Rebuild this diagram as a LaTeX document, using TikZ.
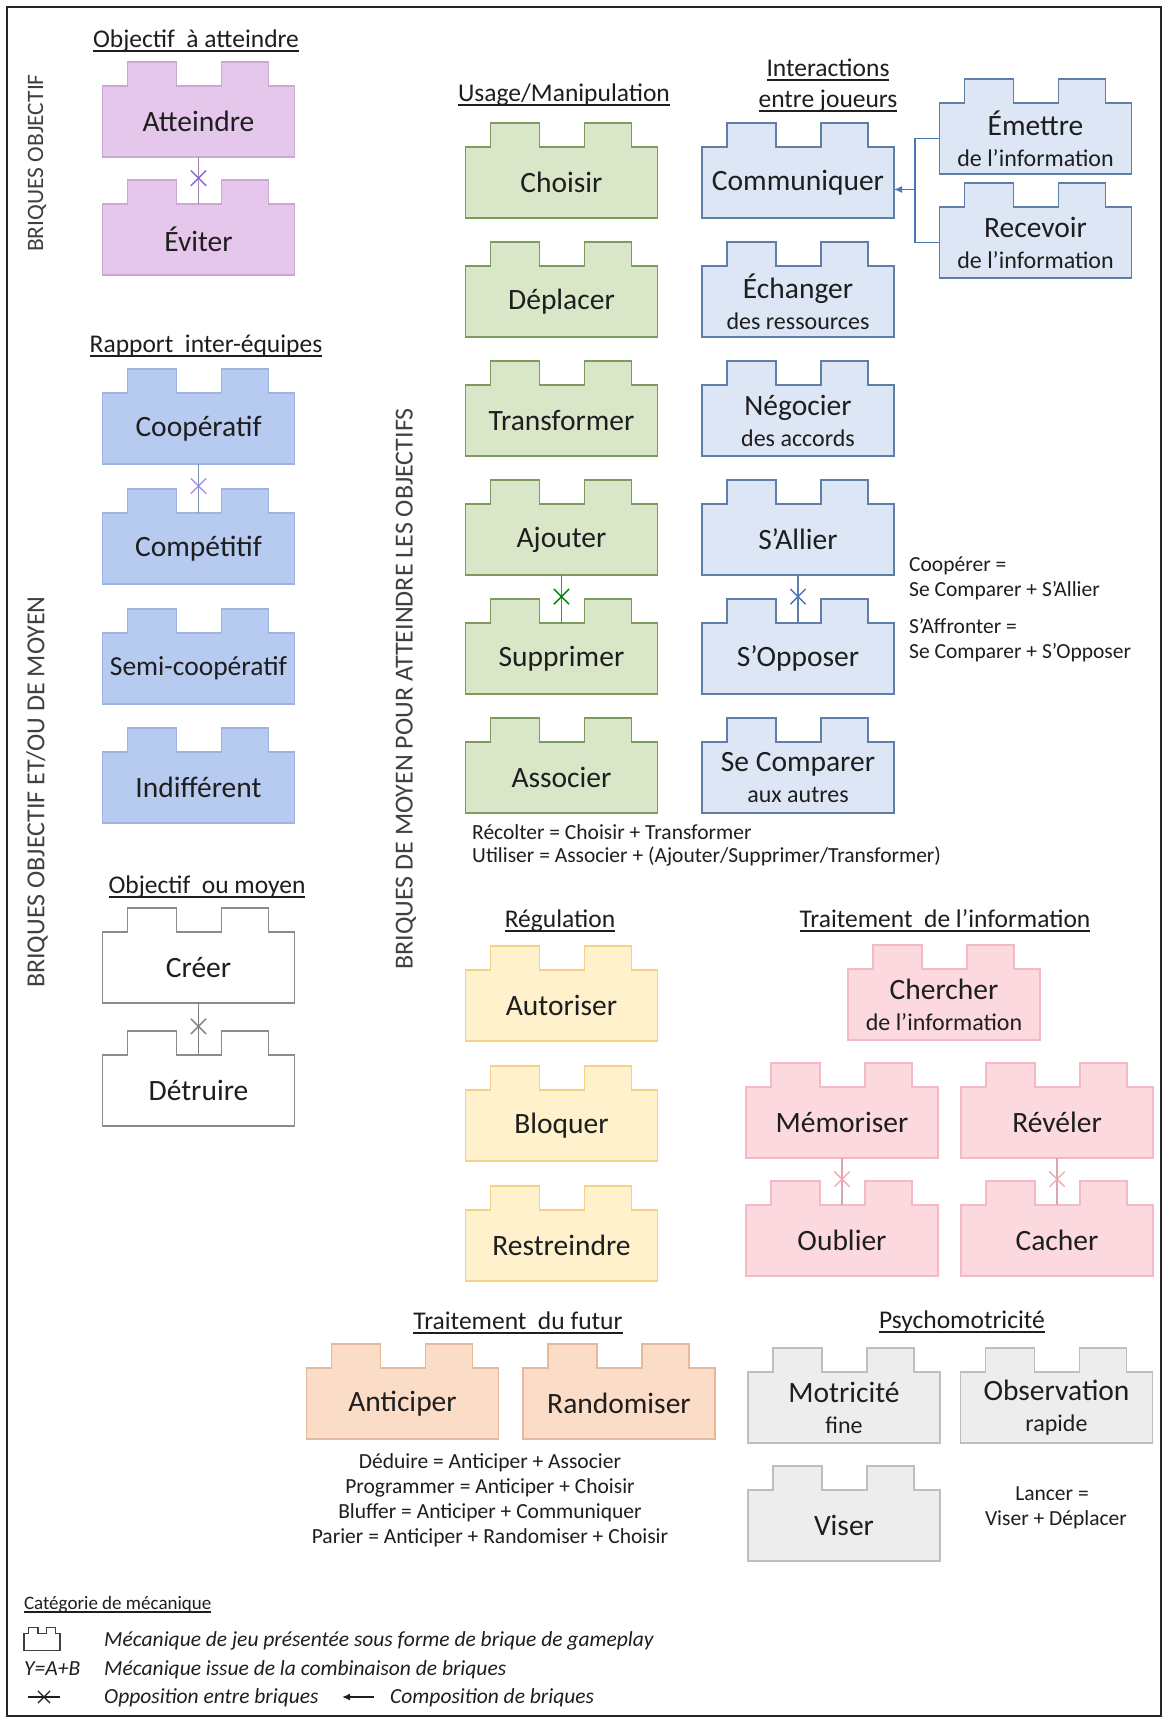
\documentclass[tikz,border=0pt]{standalone}
\usepackage{fontspec}
\setmainfont{Carlito}
\usetikzlibrary{arrows.meta,shapes.misc,calc}

\definecolor{txt}{HTML}{1E1E1E}
\definecolor{lilacF}{HTML}{E6C7EC}\definecolor{lilacD}{HTML}{CBA8D4}
\definecolor{blueF}{HTML}{B7CBF0}\definecolor{blueD}{HTML}{9DB4E2}
\definecolor{lblueF}{HTML}{DCE6F4}\definecolor{lblueD}{HTML}{5F7FA8}
\definecolor{greenF}{HTML}{D9E6C8}\definecolor{greenD}{HTML}{7F9A5F}
\definecolor{whiteF}{HTML}{FFFFFF}\definecolor{grayD}{HTML}{8C8C8C}
\definecolor{yelF}{HTML}{FFF1CC}\definecolor{yelD}{HTML}{F5D283}
\definecolor{pinkF}{HTML}{FBD9DF}\definecolor{pinkD}{HTML}{F3B9C5}
\definecolor{orF}{HTML}{FADCC7}\definecolor{orD}{HTML}{E6B89C}
\definecolor{grF}{HTML}{EDEDED}\definecolor{grD}{HTML}{BEBEBE}
\definecolor{compC}{HTML}{4A76B5}

\newcommand\BrFont{\fontsize{29.5}{32}\selectfont}
\newcommand\SemiFont{\fontsize{27.5}{32}\selectfont}
\newcommand\SubFont{\fontsize{24}{26}\selectfont}
\newcommand\TiFont{\fontsize{25.5}{29}\selectfont}
\newcommand\FoFont{\fontsize{21.5}{24}\selectfont}
\newcommand\SiFont{\fontsize{26}{29}\selectfont}
\newcommand\SiSmall{\fontsize{23.5}{27}\selectfont}
\newcommand\LgFont{\fontsize{21.5}{24}\selectfont}
\newcommand\LgHead{\fontsize{19}{22}\selectfont}

% #1 name, #2 centre x, #3 top of studs, #4 fill, #5 border, #6 text
\newcommand\brick[6]{%
  \node[brickbody, fill=#4, draw=#5] (#1) at (#2,#3+55.5) {#6};
  \filldraw[fill=#4, draw=#5, line width=1.5pt] ([xshift=25pt]#1.north west) -- ++(0,-24) -- ++(49,0) -- ++(0,24);
  \filldraw[fill=#4, draw=#5, line width=1.5pt] ([xshift=119pt]#1.north west) -- ++(0,-24) -- ++(47,0) -- ++(0,24);
  \fill[#4] ([xshift=25.9pt,yshift=-1.2pt]#1.north west) rectangle ++(47.2,-2.4);
  \fill[#4] ([xshift=119.9pt,yshift=-1.2pt]#1.north west) rectangle ++(45.2,-2.4);
}
% opposition: #1 upper, #2 lower, #3 line colour, #4 cross colour, #5 cross name
\newcommand\opp[5]{%
  \draw[oppline=#3] (#1.south) -- (#2.north) node[xmark=#4, pos=0.45] (#5) {};
}
% underlined title: #1 name, #2 x, #3 baseline y, #4 text
\newcommand\ttl[4]{%
  \node[ttl] (#1) at (#2,#3) {#4};
  \draw[line width=1.3pt, txt] ([yshift=-4pt]#1.base west) -- ([yshift=-4pt]#1.base east);
}

\begin{document}
\begin{tikzpicture}[x=1pt,y=-1pt,
  brickbody/.style={rectangle, minimum width=192pt, minimum height=71pt, inner sep=0pt, outer sep=0pt, align=center, font=\BrFont, text=txt, line width=1.5pt},
  ttl/.style={inner sep=0pt, outer sep=0pt, font=\TiFont, text=txt, anchor=base},
  form/.style={inner sep=0pt, font=\FoFont, text=txt},
  side/.style={inner sep=0pt, font=\SiFont, text=txt!85, rotate=90},
  leg/.style={inner sep=0pt, font=\LgFont\itshape, text=txt, anchor=base west},
  xmark/.style={cross out, draw=#1, minimum width=14pt, minimum height=14pt, inner sep=0pt, line width=1.3pt},
  oppline/.style={draw=#1, line width=1.3pt},
  comp/.style={draw=compC, line width=1.5pt},
]
\useasboundingbox (0,0) rectangle (1168,1722);
\fill[white] (0,0) rectangle (1168,1722);
\draw[line width=1.2pt, black!85] (7,7) rectangle (1161,1716);

% side labels
\node[side, font=\SiSmall] (s1) at (37,163) {BRIQUES OBJECTIF};
\node[side] (s2) at (37,792) {BRIQUES OBJECTIF ET/OU DE MOYEN};
\node[side] (s3) at (406,689) {BRIQUES DE MOYEN POUR ATTEINDRE LES OBJECTIFS};

% titles
\ttl{t1}{196}{47}{Objectif\ \ à atteindre}
\ttl{t2}{206}{352}{Rapport\ \ inter-équipes}
\ttl{t3}{207}{893}{Objectif\ \ ou moyen}
\ttl{t4}{564}{101}{Usage/Manipulation}
\ttl{t5a}{828}{76}{Interactions}
\ttl{t5b}{828}{107}{entre joueurs}
\ttl{t6}{560}{927}{Régulation}
\ttl{t7}{945}{927}{Traitement\ \ de l’information}
\ttl{t8}{518}{1329}{Traitement\ \ du futur}
\ttl{t9}{962}{1328}{Psychomotricité}

% left column
\brick{atteindre}{198.5}{66}{lilacF}{lilacD}{Atteindre}
\brick{eviter}{198.5}{184}{lilacF}{lilacD}{Éviter}
\brick{coop}{198.5}{373}{blueF}{blueD}{Coopératif}
\brick{compet}{198.5}{493}{blueF}{blueD}{Compétitif}
\brick{semi}{198.5}{613}{blueF}{blueD}{\SemiFont Semi-coopératif}
\brick{indiff}{198.5}{732}{blueF}{blueD}{Indifférent}
\brick{creer}{198.5}{912}{whiteF}{grayD}{Créer}
\brick{detruire}{198.5}{1035}{whiteF}{grayD}{Détruire}

% usage / manipulation
\brick{choisir}{561.5}{127}{greenF}{greenD}{Choisir}
\brick{deplacer}{561.5}{246}{greenF}{greenD}{Déplacer}
\brick{transformer}{561.5}{365}{greenF}{greenD}{Transformer}
\brick{ajouter}{561.5}{484}{greenF}{greenD}{Ajouter}
\brick{supprimer}{561.5}{603}{greenF}{greenD}{Supprimer}
\brick{associer}{561.5}{722}{greenF}{greenD}{Associer}

% interactions
\brick{communiquer}{798}{127}{lblueF}{lblueD}{Communiquer}
\brick{echanger}{798}{246}{lblueF}{lblueD}{Échanger\\[-1pt]{\SubFont des ressources}}
\brick{negocier}{798}{365}{lblueF}{lblueD}{Négocier\\[-1pt]{\SubFont des accords}}
\brick{allier}{798}{484}{lblueF}{lblueD}{S’Allier}
\brick{opposer}{798}{603}{lblueF}{lblueD}{S’Opposer}
\brick{comparer}{798}{722}{lblueF}{lblueD}{Se Comparer\\[-1pt]{\SubFont aux autres}}
\brick{emettre}{1035.5}{83}{lblueF}{lblueD}{Émettre\\[-1pt]{\SubFont de l’information}}
\brick{recevoir}{1035.5}{187}{lblueF}{lblueD}{Recevoir\\[-1pt]{\SubFont de l’information}}

% regulation
\brick{autoriser}{561.5}{950}{yelF}{yelD}{Autoriser}
\brick{bloquer}{561.5}{1070}{yelF}{yelD}{Bloquer}
\brick{restreindre}{561.5}{1190}{yelF}{yelD}{Restreindre}

% traitement de l'information
\brick{chercher}{944}{949}{pinkF}{pinkD}{Chercher\\[-1pt]{\SubFont de l’information}}
\brick{memoriser}{842}{1067}{pinkF}{pinkD}{Mémoriser}
\brick{reveler}{1057}{1067}{pinkF}{pinkD}{Révéler}
\brick{oublier}{842}{1185}{pinkF}{pinkD}{Oublier}
\brick{cacher}{1057}{1185}{pinkF}{pinkD}{Cacher}

% futur
\brick{anticiper}{402.5}{1348}{orF}{orD}{Anticiper}
\brick{randomiser}{619}{1348}{orF}{orD}{Randomiser}

% psychomotricite
\brick{motricite}{844}{1352}{grF}{grD}{Motricité\\[-1pt]{\SubFont fine}}
\brick{observation}{1056.5}{1352}{grF}{grD}{Observation\\[-1pt]{\SubFont rapide}}
\brick{viser}{844}{1470}{grF}{grD}{Viser}

% oppositions
\opp{atteindre}{eviter}{lilacD!80!black}{violet!45!blue!60}{xa}
\opp{coop}{compet}{blueD!80!black}{violet!35!blue!45}{xb}
\opp{creer}{detruire}{gray}{gray}{xc}
\opp{ajouter}{supprimer}{greenD!80!black}{green!50!black}{xd}
\opp{allier}{opposer}{lblueD}{compC}{xe}
\opp{memoriser}{oublier}{pinkD!90!black}{pinkD!90!red}{xf}
\opp{reveler}{cacher}{pinkD!90!black}{pinkD!90!red}{xg}

% composition
\coordinate (jm) at (915,189.5);
\draw[comp] (emettre.west) -| (jm) |- (recevoir.west);
\draw[comp, -{Latex[length=8pt,width=7pt]}] (jm) -- (jm -| communiquer.east);

% formulas
\node[form, anchor=base west] (f1) at (472,839) {Récolter = Choisir + Transformer};
\node[form, anchor=base west] (f2) at (472,862) {Utiliser = Associer + (Ajouter/Supprimer/Transformer)};
\node[form, anchor=base west] (f3) at (909,571) {Coopérer =};
\node[form, anchor=base west] (f4) at (909,596) {Se Comparer + S’Allier};
\node[form, anchor=base west] (f5) at (909,633) {S’Affronter =};
\node[form, anchor=base west] (f6) at (909,658) {Se Comparer + S’Opposer};
\node[form, anchor=base] (f7) at (490,1468) {Déduire = Anticiper + Associer};
\node[form, anchor=base] (f8) at (490,1493) {Programmer = Anticiper + Choisir};
\node[form, anchor=base] (f9) at (490,1518) {Bluffer = Anticiper + Communiquer};
\node[form, anchor=base] (f10) at (490,1543) {Parier = Anticiper + Randomiser + Choisir};
\node[form, anchor=base] (f11) at (1052,1500) {Lancer =};
\node[form, anchor=base] (f12) at (1056,1525) {Viser + Déplacer};

% legend
\node[inner sep=0pt, outer sep=0pt, font=\LgHead, text=txt, anchor=base west] (lt) at (24,1609) {Catégorie de mécanique};
\draw[line width=1.1pt, txt] ([yshift=-3pt]lt.base west) -- ([yshift=-3pt]lt.base east);
\node[draw=black!75, line width=1.1pt, minimum width=36pt, minimum height=17pt, inner sep=0pt, outer sep=0pt] (legicon) at (42,1642) {};
\draw[black!75, line width=1.1pt] ([xshift=4.5pt]legicon.north west) -- ++(0,-6) -- ++(9.5,0) -- ++(0,6);
\draw[black!75, line width=1.1pt] ([xshift=22.5pt]legicon.north west) -- ++(0,-6) -- ++(9,0) -- ++(0,6);
\fill[white] ([xshift=5.2pt,yshift=-1pt]legicon.north west) rectangle ++(8.1,-2);
\fill[white] ([xshift=23.2pt,yshift=-1pt]legicon.north west) rectangle ++(7.6,-2);
\node[leg] (l1) at (104,1646) {Mécanique de jeu présentée sous forme de brique de gameplay};
\node[leg] (l2) at (24,1675) {Y=A+B};
\node[leg] (l3) at (104,1675) {Mécanique issue de la combinaison de briques};
\coordinate (lx1) at (28,1697);
\coordinate (lx2) at (60,1697);
\draw[line width=1.2pt, txt] (lx1) -- (lx2) node[midway, cross out, draw=txt, minimum size=11pt, inner sep=0pt, line width=1.2pt] (legx) {};
\node[leg] (l4) at (104,1703) {Opposition entre briques};
\coordinate (la1) at (374,1697);
\coordinate (la2) at (342,1697);
\draw[line width=1.5pt, txt, -{Latex[length=8pt,width=7pt]}] (la1) -- (la2);
\node[leg] (l5) at (390,1703) {Composition de briques};
\end{tikzpicture}
\end{document}
